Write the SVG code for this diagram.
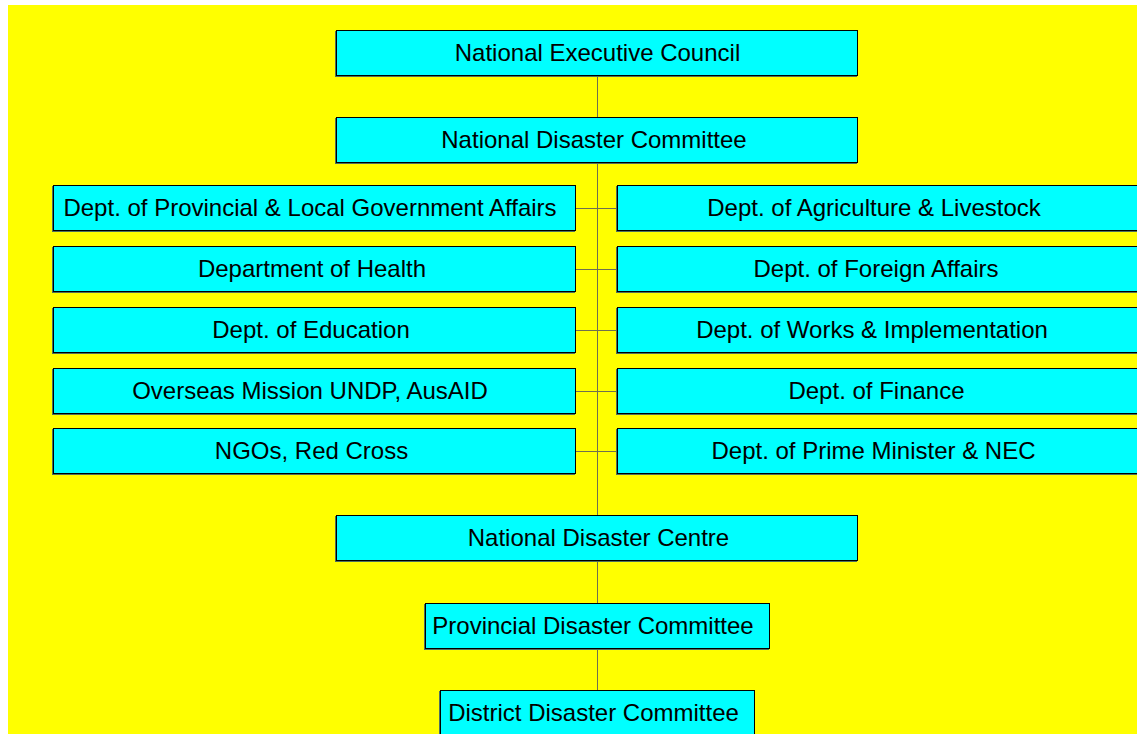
<svg xmlns="http://www.w3.org/2000/svg" width="1137" height="734" viewBox="0 0 1137 734">
  <style>
    .box { fill: #00ffff; stroke: #000000; stroke-width: 1; }
    .shadow { fill: #4f6f5f; }
    .lbl { font-family: "Liberation Sans", Arial, sans-serif; font-size: 24px; fill: #000000; text-anchor: middle; }
    .conn { stroke: #6f6f50; stroke-width: 1; fill: none; }
  </style>
  <rect x="0" y="0" width="1137" height="734" fill="#ffffff"/>
  <rect x="8" y="5" width="1129" height="729" fill="#ffff00"/>

  <g id="connectors">
    <line class="conn" x1="597.5" y1="76" x2="597.5" y2="117"/>
    <line class="conn" x1="597.5" y1="163" x2="597.5" y2="515"/>
    <line class="conn" x1="576" y1="208.5" x2="617" y2="208.5"/>
    <line class="conn" x1="576" y1="269.5" x2="617" y2="269.5"/>
    <line class="conn" x1="576" y1="330.5" x2="617" y2="330.5"/>
    <line class="conn" x1="576" y1="391.5" x2="617" y2="391.5"/>
    <line class="conn" x1="576" y1="451.5" x2="617" y2="451.5"/>
    <line class="conn" x1="597.5" y1="561" x2="597.5" y2="603"/>
    <line class="conn" x1="597.5" y1="649" x2="597.5" y2="690"/>
  </g>

  <g id="nec">
    <rect class="shadow" x="335" y="31" width="522" height="46"/>
    <rect class="box" x="336.5" y="30.5" width="521" height="45"/>
    <text class="lbl" x="597.5" y="60.5">National Executive Council</text>
  </g>
  <g id="ndcommittee">
    <rect class="shadow" x="335" y="118" width="522" height="46"/>
    <rect class="box" x="336.5" y="117.5" width="521" height="45"/>
    <text class="lbl" x="594" y="147.5">National Disaster Committee</text>
  </g>

  <g id="l1">
    <rect class="shadow" x="52" y="186" width="523" height="46"/>
    <rect class="box" x="53.5" y="185.5" width="522" height="45"/>
    <text class="lbl" x="310" y="215.5">Dept. of Provincial &amp; Local Government Affairs</text>
  </g>
  <g id="l2">
    <rect class="shadow" x="52" y="247" width="523" height="46"/>
    <rect class="box" x="53.5" y="246.5" width="522" height="45"/>
    <text class="lbl" x="312" y="276.5">Department of Health</text>
  </g>
  <g id="l3">
    <rect class="shadow" x="52" y="308" width="523" height="46"/>
    <rect class="box" x="53.5" y="307.5" width="522" height="45"/>
    <text class="lbl" x="311" y="337.5">Dept. of Education</text>
  </g>
  <g id="l4">
    <rect class="shadow" x="52" y="369" width="523" height="46"/>
    <rect class="box" x="53.5" y="368.5" width="522" height="45"/>
    <text class="lbl" x="310" y="398.5">Overseas Mission UNDP, AusAID</text>
  </g>
  <g id="l5">
    <rect class="shadow" x="52" y="429" width="523" height="46"/>
    <rect class="box" x="53.5" y="428.5" width="522" height="45"/>
    <text class="lbl" x="311.5" y="458.5">NGOs, Red Cross</text>
  </g>

  <g id="r1">
    <rect class="shadow" x="616" y="186" width="523" height="46"/>
    <rect class="box" x="617.5" y="185.5" width="522" height="45"/>
    <text class="lbl" x="874" y="215.5">Dept. of Agriculture &amp; Livestock</text>
  </g>
  <g id="r2">
    <rect class="shadow" x="616" y="247" width="523" height="46"/>
    <rect class="box" x="617.5" y="246.5" width="522" height="45"/>
    <text class="lbl" x="876" y="276.5">Dept. of Foreign Affairs</text>
  </g>
  <g id="r3">
    <rect class="shadow" x="616" y="308" width="523" height="46"/>
    <rect class="box" x="617.5" y="307.5" width="522" height="45"/>
    <text class="lbl" x="872" y="337.5">Dept. of Works &amp; Implementation</text>
  </g>
  <g id="r4">
    <rect class="shadow" x="616" y="369" width="523" height="46"/>
    <rect class="box" x="617.5" y="368.5" width="522" height="45"/>
    <text class="lbl" x="876.5" y="398.5">Dept. of Finance</text>
  </g>
  <g id="r5">
    <rect class="shadow" x="616" y="429" width="523" height="46"/>
    <rect class="box" x="617.5" y="428.5" width="522" height="45"/>
    <text class="lbl" x="873.5" y="458.5">Dept. of Prime Minister &amp; NEC</text>
  </g>

  <g id="ndcentre">
    <rect class="shadow" x="335" y="516" width="522" height="46"/>
    <rect class="box" x="336.5" y="515.5" width="521" height="45"/>
    <text class="lbl" x="598.5" y="545.5">National Disaster Centre</text>
  </g>
  <g id="provincial">
    <rect class="shadow" x="424" y="604" width="345" height="46"/>
    <rect class="box" x="425.5" y="603.5" width="344" height="45"/>
    <text class="lbl" x="593" y="633.5">Provincial Disaster Committee</text>
  </g>
  <g id="district">
    <rect class="shadow" x="439" y="691" width="315" height="46"/>
    <rect class="box" x="440.5" y="690.5" width="314" height="45"/>
    <text class="lbl" x="593.5" y="720.5">District Disaster Committee</text>
  </g>
</svg>
